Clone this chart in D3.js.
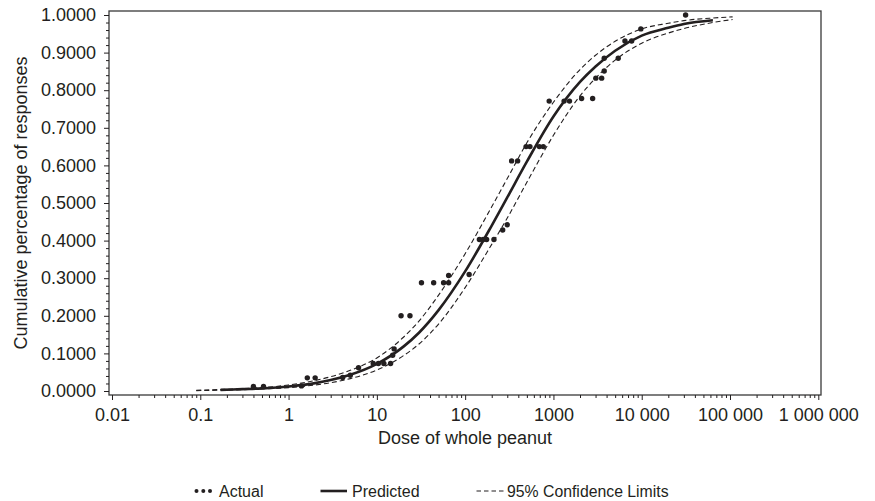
<!DOCTYPE html>
<html><head><meta charset="utf-8">
<script src="https://cdn.jsdelivr.net/npm/d3@7"></script>
<style>body{margin:0;background:#fff}svg{display:block}text{font-family:"Liberation Sans",Arial,Helvetica,sans-serif;fill:#231f20}</style>
</head><body><svg id="c" width="875" height="501"></svg>
<script>
// Observed (Actual) points
const actualDose = [0.40,0.52,1.4,1.63,2.0,4.1,5.0,6.2,9.1,10.4,12.0,14.3,15.1,15.7,18.8,23.7,32,44,57,65,65,111,145,160,175,212,266,300,336,393,490,542,692,767,895,1320,1520,2085,2780,3020,3515,3760,3760,5420,6460,7690,9770,31400];
const actualResp = [0.012,0.012,0.0135,0.035,0.035,0.036,0.042,0.062,0.073,0.073,0.073,0.073,0.095,0.112,0.200,0.200,0.288,0.288,0.288,0.288,0.307,0.310,0.403,0.403,0.403,0.403,0.428,0.442,0.612,0.612,0.650,0.650,0.650,0.650,0.771,0.771,0.771,0.778,0.778,0.832,0.832,0.851,0.885,0.885,0.931,0.931,0.963,1.0];
// Predicted curve
const predDose = [0.17,0.3,0.5,1,2,3,5,10,20,30,50,100,200,300,500,1000,2000,3000,5000,10000,20000,30000,64000];
const predResp = [0.003,0.005,0.007,0.012,0.021,0.029,0.043,0.072,0.118,0.155,0.215,0.318,0.440,0.515,0.610,0.730,0.822,0.863,0.905,0.945,0.966,0.976,0.986];
// 95% confidence limits
const ciDose = [0.09,0.17,0.3,0.5,1,2,3,5,10,20,30,50,100,200,300,500,1000,2000,3000,5000,10000,20000,30000,64000,107000];
const ciUpper = [0.002,0.004,0.0065,0.009,0.016,0.028,0.038,0.055,0.088,0.143,0.186,0.255,0.365,0.490,0.565,0.660,0.768,0.855,0.893,0.930,0.963,0.978,0.985,0.992,0.995];
const ciLower = [0.001,0.002,0.0035,0.0055,0.009,0.016,0.022,0.033,0.056,0.094,0.125,0.178,0.275,0.390,0.460,0.555,0.680,0.785,0.832,0.880,0.925,0.952,0.964,0.980,0.988];
// Axis tick labels
const xTickValues = [0.01,0.1,1,10,100,1000,10000,100000,1000000];
const xTickLabels = ["0.01","0.1","1","10","100","1000","10 000","100 000","1 000 000"];
const yTickValues = [0,0.1,0.2,0.3,0.4,0.5,0.6,0.7,0.8,0.9,1.0];
const yTickLabels = ["0.0000","0.1000","0.2000","0.3000","0.4000","0.5000","0.6000","0.7000","0.8000","0.9000","1.0000"];
const legendLabels = ["Actual","Predicted","95% Confidence Limits"];

const svg = d3.select("#c");
const x = d3.scaleLog().domain([0.01,1e6]).range([112,818.3]);
const y = d3.scaleLinear().domain([0,1]).range([391,15]);
const frame = {l:109, r:821, t:11, b:395};

// frame
svg.append("rect").attr("x",frame.l).attr("y",frame.t).attr("width",frame.r-frame.l).attr("height",frame.b-frame.t)
  .attr("fill","none").attr("stroke","#3a3a3a").attr("stroke-width",1.3);

// x axis
const xMinor = [];
for (let e=-2;e<6;e++) for (let k=2;k<10;k++) xMinor.push(k*Math.pow(10,e));
const gxm = svg.append("g").attr("transform",`translate(0,${frame.b})`)
  .call(d3.axisBottom(x).tickValues(xMinor).tickSize(3).tickFormat(""));
gxm.select(".domain").remove();
const gx = svg.append("g").attr("transform",`translate(0,${frame.b})`)
  .call(d3.axisBottom(x).tickValues(xTickValues).tickSize(5).tickPadding(8)
    .tickFormat((d,i)=>xTickLabels[i]));
gx.select(".domain").remove();
gx.selectAll("text").attr("font-size",18).style("font-family",'"Liberation Sans",Arial,sans-serif').attr("fill","#231f20");
svg.selectAll(".tick line").attr("stroke","#231f20").attr("stroke-width",1);

// y axis
const yMinor = d3.range(0,51).map(i=>i*0.02).filter(v=>Math.abs(v*10-Math.round(v*10))>1e-6);
const gym = svg.append("g").attr("transform",`translate(${frame.l},0)`)
  .call(d3.axisLeft(y).tickValues(yMinor).tickSize(3).tickFormat(""));
gym.select(".domain").remove();
const gy = svg.append("g").attr("transform",`translate(${frame.l},0)`)
  .call(d3.axisLeft(y).tickValues(yTickValues).tickSize(5).tickPadding(8)
    .tickFormat((d,i)=>yTickLabels[i]));
gy.select(".domain").remove();
gy.selectAll("text").attr("font-size",18).style("font-family",'"Liberation Sans",Arial,sans-serif').attr("fill","#231f20");
svg.selectAll(".tick line").attr("stroke","#231f20").attr("stroke-width",1);

// axis titles
svg.append("text").attr("x",465).attr("y",444).attr("text-anchor","middle").attr("font-size",18).text("Dose of whole peanut");
svg.append("text").attr("transform","translate(27,203) rotate(-90)").attr("text-anchor","middle").attr("font-size",18).text("Cumulative percentage of responses");

// curves
const line = (ds,vs)=> d3.line().x((d,i)=>x(ds[i])).y((d,i)=>y(vs[i])).curve(d3.curveMonotoneX)(ds);
svg.append("path").attr("d",line(ciDose,ciUpper)).attr("fill","none").attr("stroke","#231f20").attr("stroke-width",1.1).attr("stroke-dasharray","5,3");
svg.append("path").attr("d",line(ciDose,ciLower)).attr("fill","none").attr("stroke","#231f20").attr("stroke-width",1.1).attr("stroke-dasharray","5,3");
svg.append("path").attr("d",line(predDose,predResp)).attr("fill","none").attr("stroke","#231f20").attr("stroke-width",2.6);

// points
svg.append("g").selectAll("circle").data(actualDose).join("circle")
  .attr("cx",(d)=>x(d)).attr("cy",(d,i)=>y(actualResp[i])).attr("r",2.7).attr("fill","#231f20");

// legend
const lg = svg.append("g");
[196.5,203.3,210].forEach(cx=>lg.append("circle").attr("cx",cx).attr("cy",491).attr("r",2).attr("fill","#231f20"));
lg.append("text").attr("x",219).attr("y",497).attr("font-size",16).text(legendLabels[0]);
lg.append("line").attr("x1",320.5).attr("x2",347).attr("y1",491).attr("y2",491).attr("stroke","#231f20").attr("stroke-width",2.6);
lg.append("text").attr("x",352).attr("y",497).attr("font-size",16).text(legendLabels[1]);
lg.append("line").attr("x1",476.5).attr("x2",505).attr("y1",491).attr("y2",491).attr("stroke","#231f20").attr("stroke-width",1.1).attr("stroke-dasharray","4.5,3");
lg.append("text").attr("x",507).attr("y",497).attr("font-size",15.8).text(legendLabels[2]);
</script></body></html>
